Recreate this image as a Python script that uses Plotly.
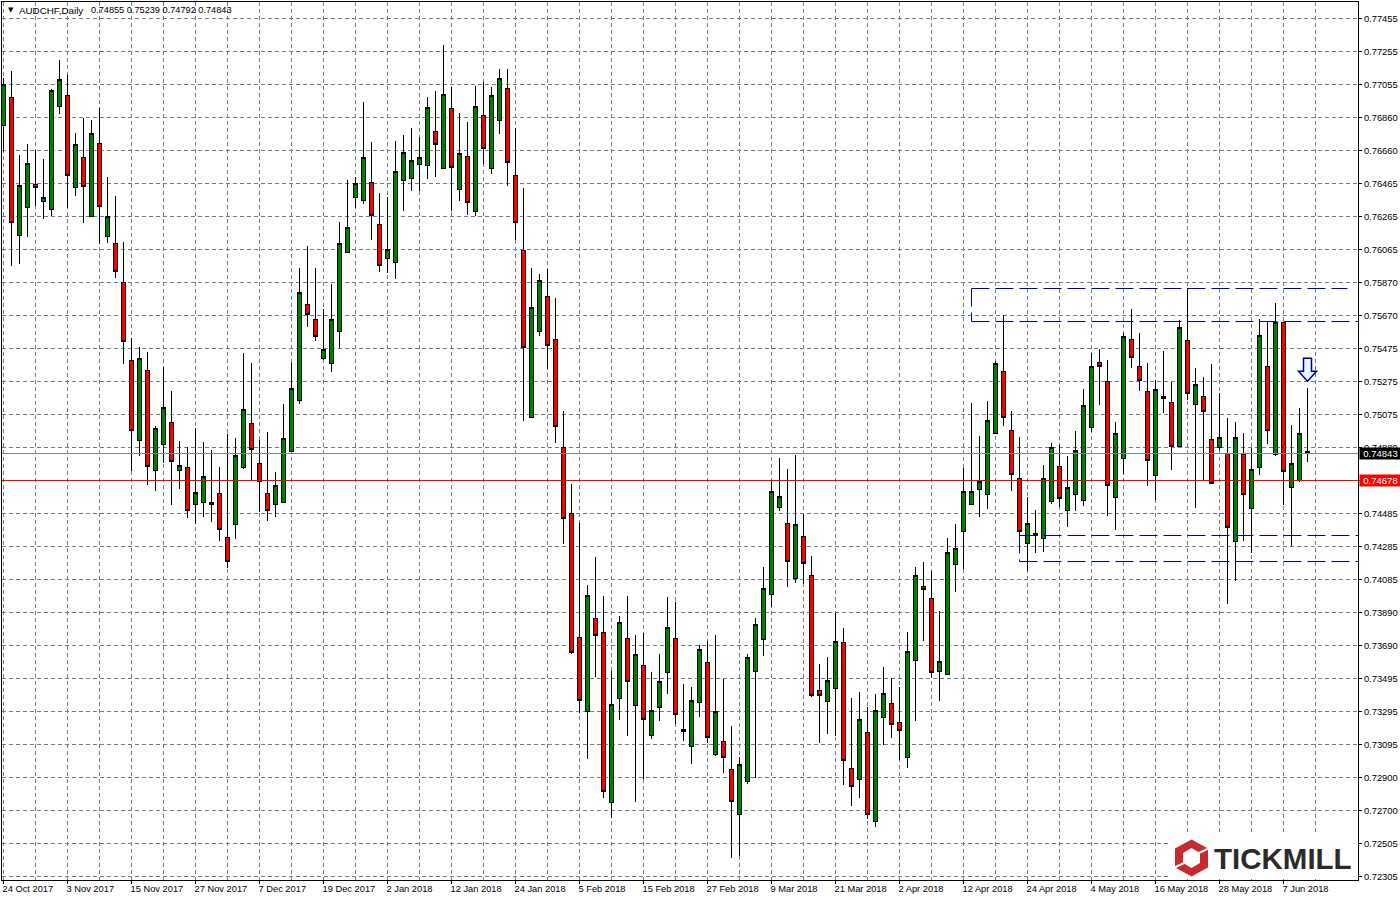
import plotly.graph_objects as go

open_ = [.76815,.76983,.76154,.76323,.76461,.76359,.76311,.76929,.76995,.76443,.76623,.76269,.76707,.76148,.76106,.75872,
.75404,.74924,.75344,.74744,.74900,.75032,.74744,.74762,.74540,.74552,.74552,.74606,.74342,.74420,.74762,.75026,.74786,.74606,.74540,.74552,.74858,.75164,.75740,.75650,.75416,.75386,.75578,
.76052,.76383,.76365,.76473,.76220,.76016,.75992,.76485,.76497,.76581,.76575,.76779,.76557,.76917,.76431,.76629,.76299,.76875,.76557,.76845,.77037,.76515,.76064,.75062,.75578,.75788,.75530,.74882,.74486,.73742,
.73297,.73856,.73772,.72751,.73375,.73736,.73333,.73573,.73153,.73321,.73531,.73736,.73189,.73087,.73351,.73591,.73039,.73117,.72949,.72679,.72877,.73537,.73730,.74000,.74522,.74426,.74096,.74348,.74114,.73423,.73357,.73435,.73712,.72955,.72889,.73171,.72637,.73261,.73345,.73231,.73021,.73603,.74048,.73976,.73537,.73519,.74180,.74378,
.74540,.74630,.74600,.74966,.75338,.74984,.74696,.74306,.74354,.74336,.74558,.74768,.74504,.74600,.74564,.75002,.75392,.75278,.74582,.74816,.75530,.75368,.75218,.74714,.75176,.75152,.74888,.75524,.75140,.75188,.74930,.74882,.74846,.74318,.74840,.74516,.74762,.75368,.74840,.75632,.74642,.74684,.74855]
high = [.77097,.77139,.76635,.76701,.76665,.76611,.77031,.77205,.77115,.76767,.76857,.76845,.76917,.76503,.76389,.76112,
.75536,.75482,.75452,.75008,.75362,.75218,.74918,.74882,.74996,.74912,.74864,.74762,.74960,.74936,.75446,.75386,.74924,.74972,.74732,.75140,.75386,.75956,.76088,.75956,.75710,.75860,.76232,
.76485,.76503,.76953,.76713,.76407,.76383,.76719,.76755,.76797,.76743,.76983,.77019,.77295,.77043,.76887,.76833,.77049,.77073,.77043,.77151,.77151,.76797,.76437,.75956,.75920,.75950,.75776,.75098,.74660,.74426,
.74054,.74222,.73988,.73537,.73868,.73988,.73754,.73766,.73531,.73639,.73982,.73952,.73459,.73441,.73694,.73718,.73754,.73489,.73207,.73021,.73639,.73856,.74162,.74678,.74816,.74750,.74834,.74480,.74228,.73579,.73621,.73886,.73796,.73375,.73411,.73321,.73399,.73561,.73495,.73441,.73772,.74162,.74192,.74138,.73898,.74336,.74420,.74756,
.75146,.74948,.75158,.75398,.75674,.75098,.74942,.74582,.74504,.74774,.74906,.74894,.74828,.74978,.75230,.75446,.75470,.75404,.75032,.75566,.75710,.75566,.75386,.75284,.75458,.75272,.75644,.75836,.75356,.75302,.75380,.75206,.75056,.75032,.74966,.74876,.75650,.75638,.75746,.75632,.75014,.75116,.75239]
low = [.76653,.75968,.75980,.76142,.76329,.76250,.76269,.76881,.76317,.76389,.76226,.76269,.76100,.76106,.75896,.75380,
.74738,.74828,.74654,.74618,.74786,.74534,.74630,.74456,.74420,.74462,.74432,.74318,.74156,.74330,.74750,.74684,.74492,.74438,.74462,.74552,.74858,.75140,.75602,.75518,.75404,.75332,.75476,
.76052,.76317,.76341,.76124,.75932,.75926,.75890,.76299,.76419,.76419,.76491,.76503,.76557,.76299,.76359,.76275,.76269,.76581,.76521,.76761,.76449,.76124,.75038,.75062,.75548,.75350,.74906,.74300,.73639,.73285,
.73009,.73501,.72775,.72655,.73243,.73147,.72751,.72889,.73129,.73237,.73399,.73219,.73117,.72979,.73261,.73105,.73027,.72925,.72415,.72427,.72859,.72895,.73627,.73922,.74498,.74042,.74066,.74060,.73381,.73105,.73159,.73147,.72853,.72727,.72775,.72649,.72601,.73093,.73135,.73003,.72955,.73237,.73718,.73495,.73357,.73519,.74012,.74150,
.74540,.74462,.74510,.74966,.75008,.74618,.74348,.74138,.74246,.74252,.74540,.74522,.74402,.74498,.74528,.74972,.75134,.74468,.74384,.74720,.75356,.75218,.74648,.74564,.75086,.74744,.74888,.75164,.74516,.74684,.74666,.74864,.73940,.74078,.74318,.74246,.74714,.74900,.74828,.74534,.74288,.74672,.74792]
close = [.77061,.76232,.76455,.76587,.76443,.76383,.77025,.77091,.76515,.76701,.76449,.76767,.76329,.76269,.75938,.75518,
.74984,.75416,.74768,.74996,.75122,.74798,.74774,.74504,.74612,.74708,.74540,.74390,.74198,.74834,.75110,.74870,.74678,.74504,.74654,.74936,.75236,.75812,.75680,.75548,.75470,.75650,.76106,
.76202,.76467,.76623,.76275,.75974,.76070,.76539,.76653,.76605,.76623,.76923,.76701,.77001,.76563,.76647,.76353,.76929,.76677,.76995,.77097,.76593,.76232,.75482,.75722,.75884,.75494,.75008,.74456,.73652,.73363,
.73994,.73754,.72817,.73339,.73832,.73477,.73639,.73249,.73303,.73477,.73802,.73279,.73177,.73363,.73670,.73141,.73297,.73021,.72757,.72979,.73621,.73820,.74036,.74618,.74588,.74198,.74420,.74186,.73393,.73393,.73483,.73718,.73003,.72847,.73249,.72679,.73303,.73405,.73219,.73183,.73658,.74114,.74030,.73531,.73597,.74252,.74276,.74618,
.74618,.74678,.75044,.75386,.75062,.74720,.74378,.74426,.74366,.74696,.74882,.74576,.74642,.74864,.75134,.75368,.75368,.74654,.74966,.75548,.75422,.75284,.74804,.75230,.75188,.74888,.75602,.75206,.75260,.75098,.74666,.74942,.74402,.74942,.74600,.74750,.75554,.74984,.75632,.74738,.74786,.74966,.74843]

date_labels = ["24 Oct 2017","3 Nov 2017","15 Nov 2017","27 Nov 2017","7 Dec 2017","19 Dec 2017","2 Jan 2018",
               "12 Jan 2018","24 Jan 2018","5 Feb 2018","15 Feb 2018","27 Feb 2018","9 Mar 2018","21 Mar 2018",
               "2 Apr 2018","12 Apr 2018","24 Apr 2018","4 May 2018","16 May 2018","28 May 2018","7 Jun 2018"]
price_labels = ["0.72305","0.72505","0.72700","0.72900","0.73095","0.73295","0.73495","0.73690","0.73890","0.74085",
                "0.74285","0.74485","0.74680","0.74880","0.75075","0.75275","0.75475","0.75670","0.75870","0.76065",
                "0.76265","0.76465","0.76660","0.76860","0.77055","0.77255","0.77455"]
last_price = 0.74844
red_price = 0.746819
res_upper, res_lower = 0.758344, 0.756363
sup_upper, sup_lower = 0.743518, 0.741957

INK = "#000000"
GRID = "#708090"
BLUE = "#0000CD"
FONT = "Liberation Sans"

x = list(range(len(open_)))
k = (0.77455 - 0.72305) / 858
y_range = [0.72305 - 3.5 * k, 0.77455 + 16.5 * k]
x_range = [-0.1875, 169.3125]
price_ticks = [0.72305 + i * 33 * k for i in range(len(price_labels))]

fig = go.Figure(go.Candlestick(
    x=x, open=open_, high=high, low=low, close=close,
    increasing=dict(fillcolor="#008000", line=dict(color=INK, width=1)),
    decreasing=dict(fillcolor="#FF0000", line=dict(color=INK, width=1)),
    whiskerwidth=0, hoverinfo="skip", showlegend=False,
))

def bline(x0, y0, x1, y1, dash="18px,6px"):
    return dict(type="line", xref="x", yref="y", x0=x0, y0=y0, x1=x1, y1=y1,
                line=dict(color=BLUE, width=1, dash=dash), layer="above")

def px_path(points, cx, cy):
    body = " L ".join(f"{px + cx} {py + cy}" for px, py in points)
    return f"M {body} Z"

def logo_shape(points, fill, cx, cy):
    return dict(type="path", xref="paper", yref="paper", xanchor=1, yanchor=0,
                xsizemode="pixel", ysizemode="pixel", path=px_path(points, cx, cy),
                fillcolor=fill, line=dict(width=0), layer="above")

hex_outer = [(0, 18.5), (16.5, 9.5), (16.5, -9.5), (0, -18.5), (-16.5, -9.5), (-16.5, 9.5)]
hex_inner = [(0, 10), (8.5, 5), (8.5, -5), (0, -10), (-8.5, -5), (-8.5, 5)]
gap_right = [(6, 3.2), (18, 8.8), (18, 11.2), (6, 5.6)]
gap_left = [(-6, -3.2), (-18, -8.8), (-18, -11.2), (-6, -5.6)]

cx, cy = -166.5, 22
shapes = [
    dict(type="line", xref="paper", yref="y", x0=0, x1=1, y0=last_price, y1=last_price,
         line=dict(color="#778899", width=1), layer="above"),
    dict(type="line", xref="paper", yref="y", x0=0, x1=1, y0=red_price, y1=red_price,
         line=dict(color="#FF0000", width=1), layer="above"),
    bline(121, res_upper, 168, res_upper),
    bline(121, res_upper, 121, res_lower),
    bline(121, res_lower, x_range[1], res_lower),
    bline(127, sup_upper, x_range[1], sup_upper),
    bline(127, sup_upper, 127, sup_lower),
    bline(127, sup_lower, x_range[1], sup_lower),
    dict(type="path", xref="x", yref="y", xanchor=163, yanchor=0.75278,
         xsizemode="pixel", ysizemode="pixel",
         path="M 0 0 L 9 10 L 4 10 L 4 23 L -4 23 L -4 10 L -9 10 Z",
         fillcolor="#EAF4FF", line=dict(color="#000080", width=1.5), layer="above"),
    dict(type="rect", xref="paper", yref="paper", xanchor=1, yanchor=0,
         xsizemode="pixel", ysizemode="pixel", x0=-187, x1=-1, y0=1, y1=47,
         fillcolor="#FFFFFF", line=dict(width=0), layer="above"),
    logo_shape(hex_outer, "#C62A2E", cx, cy),
    logo_shape(hex_inner, "#FFFFFF", cx, cy),
    logo_shape(gap_right, "#FFFFFF", cx, cy),
    logo_shape(gap_left, "#FFFFFF", cx, cy),
]

ann = [
    dict(xref="paper", yref="y", x=1, xshift=1, y=last_price, xanchor="left", yanchor="middle", showarrow=False,
         text="0.74843", bgcolor="#000000", width=41, height=11, borderpad=0,
         font=dict(family=FONT, size=9.5, color="#FFFFFF")),
    dict(xref="paper", yref="y", x=1, xshift=1, y=red_price, xanchor="left", yanchor="middle", showarrow=False,
         text="0.74678", bgcolor="#FF0000", width=41, height=11, borderpad=0,
         font=dict(family=FONT, size=9.5, color="#FFFFFF")),
    dict(xref="paper", yref="paper", x=0, y=1, xshift=4, yshift=-2, xanchor="left", yanchor="top", showarrow=False,
         text="▼", font=dict(family="DejaVu Sans", size=7, color="#000000")),
    dict(xref="paper", yref="paper", x=0, y=1, xshift=15, yshift=-1, xanchor="left", yanchor="top", showarrow=False,
         text="AUDCHF,Daily", font=dict(family=FONT, size=9.8, color="#000000")),
    dict(xref="paper", yref="paper", x=0, y=1, xshift=87, yshift=-1, xanchor="left", yanchor="top", showarrow=False,
         text="0.74855 0.75239 0.74792 0.74843", font=dict(family=FONT, size=9.2, color="#000000")),
    dict(xref="paper", yref="paper", x=1, y=0, xshift=-146, yshift=22, xanchor="left", yanchor="middle", showarrow=False,
         text="<b>TICKMILL</b>", font=dict(family=FONT, size=29.5, color="#2B2B2B")),
]

fig.update_layout(
    width=1400, height=900, autosize=False,
    margin=dict(l=2, r=42, t=2, b=20, pad=0, autoexpand=False),
    paper_bgcolor="#FFFFFF", plot_bgcolor="#FFFFFF",
    showlegend=False, boxgap=0.5, boxgroupgap=0, hovermode=False,
    shapes=shapes, annotations=ann,
    font=dict(family=FONT, size=9.5, color="#000000"),
    xaxis=dict(
        range=x_range, rangeslider=dict(visible=False), automargin=False,
        tickmode="array", tickvals=list(range(0, 161, 8)), ticktext=date_labels,
        ticklabelposition="outside right", ticklabelshift=-2, tickangle=0,
        ticks="outside", ticklen=3, tickcolor=INK, tickwidth=1,
        showgrid=True, gridcolor=GRID, gridwidth=1, griddash="4px,3px",
        showline=True, linecolor=INK, linewidth=1, mirror=True, zeroline=False,
        tickfont=dict(family=FONT, size=9.3, color="#000000"),
        minor=dict(tickmode="array", tickvals=list(range(4, 169, 8)), showgrid=True,
                   gridcolor=GRID, gridwidth=1, griddash="4px,3px", ticklen=0),
    ),
    yaxis=dict(
        range=y_range, side="right", automargin=False,
        tickmode="array", tickvals=price_ticks, ticktext=price_labels,
        ticks="outside", ticklen=3, tickcolor=INK, tickwidth=1,
        showgrid=True, gridcolor=GRID, gridwidth=1, griddash="4px,3px",
        showline=True, linecolor=INK, linewidth=1, mirror=True, zeroline=False,
        tickfont=dict(family=FONT, size=9.4, color="#000000"),
    ),
)

post = ("document.body.style.margin='0';"
        "var s=document.createElement('style');"
        "s.textContent='.trace.boxes path{shape-rendering:crispEdges}';"
        "document.head.appendChild(s);")
fig.write_html("out.html", config=dict(displayModeBar=False), post_script=post)
